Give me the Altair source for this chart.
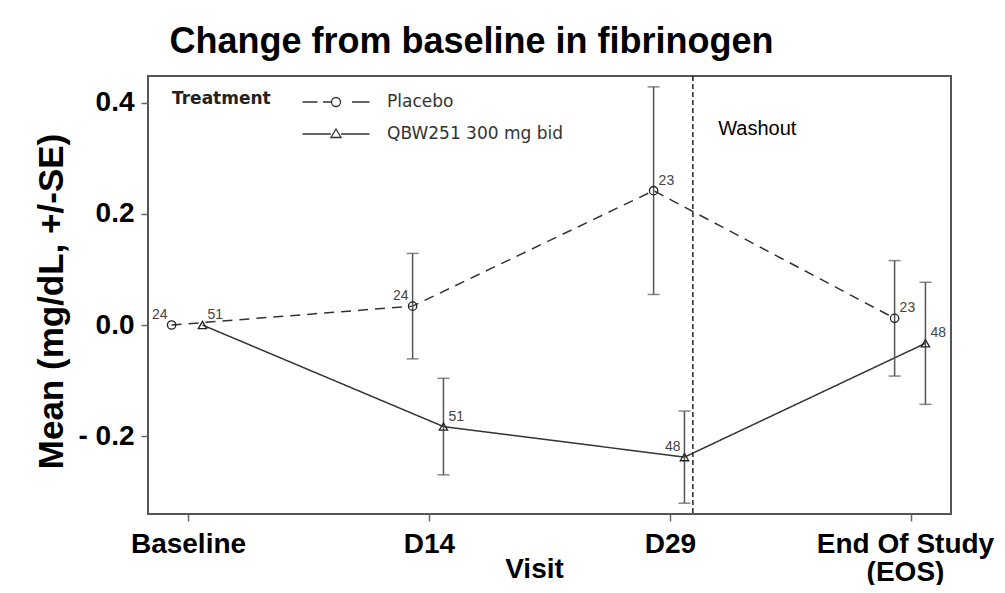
import json
import altair as alt
import pandas as pd

# ---- data ----
visits = ["Baseline", "D14", "D29", "End Of Study\n(EOS)"]
treatments = ["Placebo", "QBW251 300 mg bid"]
placebo_mean = [0.0, 0.034, 0.242, 0.012]
placebo_se = [0.0, 0.095, 0.187, 0.104]
placebo_n = [24, 24, 23, 23]
qbw_mean = [0.0, -0.183, -0.238, -0.033]
qbw_se = [0.0, 0.087, 0.083, 0.110]
qbw_n = [51, 51, 48, 48]
placebo_label_side = ["left", "left", "right", "right"]
qbw_label_side = ["right", "right", "left", "right"]
washout_at = 2.095          # position of the washout divider on the visit axis
washout_text = "Washout"
washout_text_at = [2.2, 0.342]
y_ticks = [-0.2, 0.0, 0.2, 0.4]

rows = []
for trt, means, ses, ns, sides in [
    (treatments[0], placebo_mean, placebo_se, placebo_n, placebo_label_side),
    (treatments[1], qbw_mean, qbw_se, qbw_n, qbw_label_side),
]:
    for i in range(len(visits)):
        rows.append({
            "vi": i, "trt": trt, "mean": means[i], "se": ses[i], "n": ns[i],
            "lo": means[i] - ses[i], "hi": means[i] + ses[i], "side": sides[i],
        })
df = pd.DataFrame(rows)

FONT = "Liberation Sans, Arial, sans-serif"
NARROW = "Liberation Sans Narrow, Arial Narrow, Liberation Sans, sans-serif"

dodge = "datum.vi + (datum.trt == 'Placebo' ? -0.068 : 0.06)"

x_scale = alt.Scale(domain=[-0.166, 3.166], nice=False, zero=False)
y_scale = alt.Scale(domain=[-0.3405, 0.4486], nice=False, zero=False)

x_label_expr = f"split({json.dumps(visits)}[round(datum.value)], '\\n')"
y_label_expr = "datum.value < 0 ? '- ' + format(abs(datum.value), '.1f') : format(datum.value, '.1f')"

x_enc = alt.X(
    "xpos:Q", scale=x_scale,
    axis=alt.Axis(
        values=[0, 1, 2, 3], labelExpr=x_label_expr, title="Visit",
        titleX=386, titleY=63, titleBaseline="alphabetic", titleAlign="center",
        labelOffset={"condition": {"test": "datum.value == 3", "value": -6}, "value": 0},
    ),
)
y_enc = alt.Y(
    "mean:Q", scale=y_scale,
    axis=alt.Axis(
        values=y_ticks, labelExpr=y_label_expr, title="Mean (mg/dL, +/-SE)",
        titleX=-97, titleY=225, titleBaseline="middle", titleAlign="center", titleAngle=270,
    ),
)

base = alt.Chart(df).transform_calculate(xpos=dodge)

lines = base.mark_line(color="#333", strokeWidth=1.5).encode(
    x=x_enc, y=y_enc,
    strokeDash=alt.StrokeDash(
        "trt:N", scale=alt.Scale(domain=treatments, range=[[10, 7], [1, 0]]), legend=None
    ),
    detail="trt:N",
)

err_base = base.transform_filter("datum.se > 0")
err_rules = err_base.mark_rule(color="#555", strokeWidth=1.5).encode(
    x=alt.X("xpos:Q", scale=x_scale), y=alt.Y("lo:Q", scale=y_scale), y2="hi:Q"
)
err_caps = err_base.transform_fold(["lo", "hi"], as_=["end", "val"]).mark_tick(
    orient="horizontal", size=12, thickness=1.5, color="#555"
).encode(x=alt.X("xpos:Q", scale=x_scale), y=alt.Y("val:Q", scale=y_scale))

points = base.mark_point(filled=False, size=70, strokeWidth=1.3, color="#222", opacity=1).encode(
    x=alt.X("xpos:Q", scale=x_scale), y=alt.Y("mean:Q", scale=y_scale),
    shape=alt.Shape("trt:N", scale=alt.Scale(domain=treatments, range=["circle", "triangle-up"]), legend=None),
)

n_left = base.transform_filter("datum.side == 'left'").mark_text(
    align="right", baseline="alphabetic", dx=-4, dy=-6, font=NARROW, fontSize=14, color="#444"
).encode(x=alt.X("xpos:Q", scale=x_scale), y=alt.Y("mean:Q", scale=y_scale), text="n:Q")
n_right = base.transform_filter("datum.side == 'right'").mark_text(
    align="left", baseline="alphabetic", dx=5, dy=-6, font=NARROW, fontSize=14, color="#444"
).encode(x=alt.X("xpos:Q", scale=x_scale), y=alt.Y("mean:Q", scale=y_scale), text="n:Q")

wash_df = pd.DataFrame({"x": [washout_at]})
wash_rule = alt.Chart(wash_df).mark_rule(color="#000", strokeWidth=1.3, strokeDash=[5, 3]).encode(
    x=alt.X("x:Q", scale=x_scale)
)
wash_txt_df = pd.DataFrame({"x": [washout_text_at[0]], "y": [washout_text_at[1]], "t": [washout_text]})
wash_text = alt.Chart(wash_txt_df).mark_text(
    align="left", baseline="alphabetic", font=FONT, fontSize=20, color="#000"
).encode(x=alt.X("x:Q", scale=x_scale), y=alt.Y("y:Q", scale=y_scale), text="t:N")

# legend: line + marker glyphs drawn as custom symbol paths
placebo_glyph = ("M-3.35,0L-1.85,0M-1.3,0L-0.45,0M1.6,0L3.35,0"
                 "M0.45,0A0.45,0.45 0 1,1 -0.45,0A0.45,0.45 0 1,1 0.45,0")
qbw_glyph = "M-3.35,0L-0.5,0M0.5,0L3.35,0M0,-0.5L0.5,0.35L-0.5,0.35Z"
legend_layer = base.transform_filter("false").mark_point(color="#333", filled=False).encode(
    x=alt.X("xpos:Q", scale=x_scale), y=alt.Y("mean:Q", scale=y_scale),
    shape=alt.Shape(
        "trt:N",
        scale=alt.Scale(domain=treatments, range=[placebo_glyph, qbw_glyph]),
        legend=alt.Legend(
            title="Treatment", orient="none", legendX=24, legendY=15, direction="vertical",
            titleOrient="left", titleAnchor="start", titleFont="DejaVu Sans", titleFontSize=17,
            titleFontWeight="bold", titleColor="#222", titlePadding=54, titleBaseline="top",
            labelFont="DejaVu Sans", labelFontSize=17, labelColor="#333", labelOffset=40,
            labelLimit=400,
            symbolSize=400, symbolStrokeColor="#333", symbolStrokeWidth=1.3,
            symbolFillColor="transparent", symbolOpacity=1, rowPadding=13,
        ),
    ),
)

chart = alt.layer(
    wash_rule, wash_text, lines, err_rules, err_caps, points, n_left, n_right, legend_layer
).resolve_scale(shape="independent").properties(
    width=803, height=438, autosize="none",
    padding={"left": 140, "top": 68, "right": 46, "bottom": 71},
    title=alt.TitleParams(
        "Change from baseline in fibrinogen", font=FONT, fontSize=36, fontWeight="bold",
        color="#000", anchor="middle", dx=-78, dy=38, offset=24, baseline="alphabetic",
    ),
).configure_view(stroke="#555", strokeWidth=2).configure_axis(
    grid=False, domain=False, tickColor="#666", tickSize=7, tickWidth=1.5,
    labelFont=FONT, labelFontSize=28, labelFontWeight="bold", labelColor="#000",
    titleFont=FONT, titleFontSize=28, titleFontWeight="bold", titleColor="#000",
    labelLineHeight=28,
).configure_axisY(labelPadding=7, titleFontSize=35).configure_axisX(labelPadding=9)

chart.save("out.html", embed_options={"renderer": "svg", "actions": False})
